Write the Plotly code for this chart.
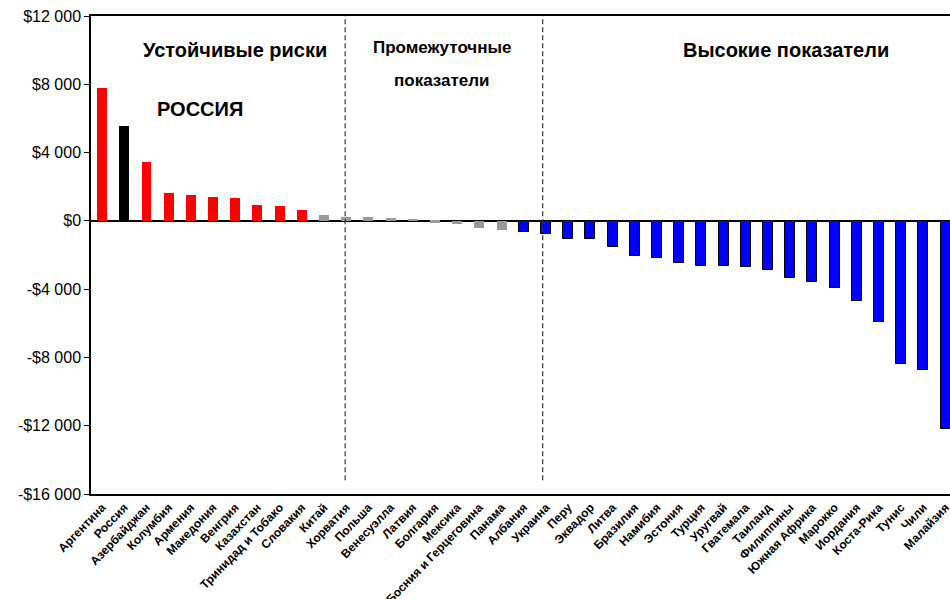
import plotly.graph_objects as go

countries = ["Аргентина", "Россия", "Азербайджан", "Колумбия", "Армения", "Македония",
             "Венгрия", "Казахстан", "Тринидад и Тобако", "Словакия", "Китай", "Хорватия",
             "Польша", "Венесуэлла", "Латвия", "Болгария", "Мексика", "Босния и Герцеговина",
             "Панама", "Албания", "Украина", "Перу", "Эквадор", "Литва", "Бразилия", "Намибия",
             "Эстония", "Турция", "Уругвай", "Гватемала", "Таиланд", "Филиппины",
             "Южная Африка", "Марокко", "Иордания", "Коста-Рика", "Тунис", "Чили", "Малайзия"]
values = [7780, 5530, 3440, 1640, 1540, 1400, 1360, 920, 880, 640, 330, 250,
          215, 160, 60, -100, -195, -430, -510, -630, -770, -1055, -1080, -1510,
          -2035, -2170, -2445, -2620, -2660, -2700, -2895, -3345, -3560, -3930,
          -4715, -5925, -8390, -8760, -12200]
groups = (["risk"] + ["russia"] + ["risk"] * 8 + ["mid"] * 9 + ["high"] * 20)

tick_values = [12000, 8000, 4000, 0, -4000, -8000, -12000, -16000]
tick_labels = ["$12 000", "$8 000", "$4 000", "$0", "-$4 000", "-$8 000", "-$12 000", "-$16 000"]

color_map = {"risk": "#FF0000", "russia": "#000000", "mid": "#999999", "high": "#0000FF"}
line_w = {"risk": 0, "russia": 0, "mid": 0, "high": 1}

FONT = "Liberation Sans, Arial, sans-serif"

fig = go.Figure(go.Bar(
    x=list(range(len(countries))),
    y=values,
    width=0.45,
    marker=dict(color=[color_map[g] for g in groups],
                line=dict(color="#000000", width=[line_w[g] for g in groups])),
    hovertext=countries,
))

fig.update_layout(
    width=950, height=599,
    margin=dict(l=91, r=0, t=16, b=105),
    plot_bgcolor="white", paper_bgcolor="white",
    showlegend=False,
    font=dict(family=FONT, color="black"),
    xaxis=dict(
        range=[-0.5, 38.2],
        automargin=False,
        tickmode="array",
        tickvals=list(range(len(countries))),
        ticktext=countries,
        tickangle=-46,
        ticklabeloverflow="allow",
        tickfont=dict(family=FONT, size=12, color="black", weight="bold"),
        showline=True, linecolor="#000000", linewidth=1.5, mirror=True,
        ticks="", showgrid=False, zeroline=False,
    ),
    yaxis=dict(
        range=[-16000, 12000],
        automargin=False,
        tickmode="array",
        tickvals=tick_values,
        ticktext=tick_labels,
        ticklabeloverflow="allow",
        tickfont=dict(family=FONT, size=16, color="black"),
        showline=True, linecolor="#000000", linewidth=1.5,
        ticks="outside", ticklen=5, tickcolor="#000000",
        showgrid=False,
        zeroline=True, zerolinecolor="#000000", zerolinewidth=1.5,
    ),
    bargap=0,
)

for xv in [10.95, 19.85]:
    fig.add_shape(type="line", xref="x", yref="paper", x0=xv, x1=xv, y0=0.029, y1=1,
                  line=dict(color="#333333", width=1.2, dash="5px,3px"))

ann = [
    ("Устойчивые риски", 6.0, 10000, 20),
    ("Промежуточные", 15.3, 10150, 17),
    ("показатели", 15.3, 8250, 17),
    ("Высокие показатели", 30.8, 10000, 20),
    ("РОССИЯ", 4.4, 6550, 20),
]
for text, xv, yv, sz in ann:
    fig.add_annotation(x=xv, y=yv, text=text, showarrow=False, xanchor="center", yanchor="middle",
                       font=dict(family=FONT, size=sz, color="black", weight="bold"))

fig.write_html(
    "out.html",
    config={"displayModeBar": False},
    post_script="document.body.style.margin='0';document.body.style.overflow='hidden';",
)
